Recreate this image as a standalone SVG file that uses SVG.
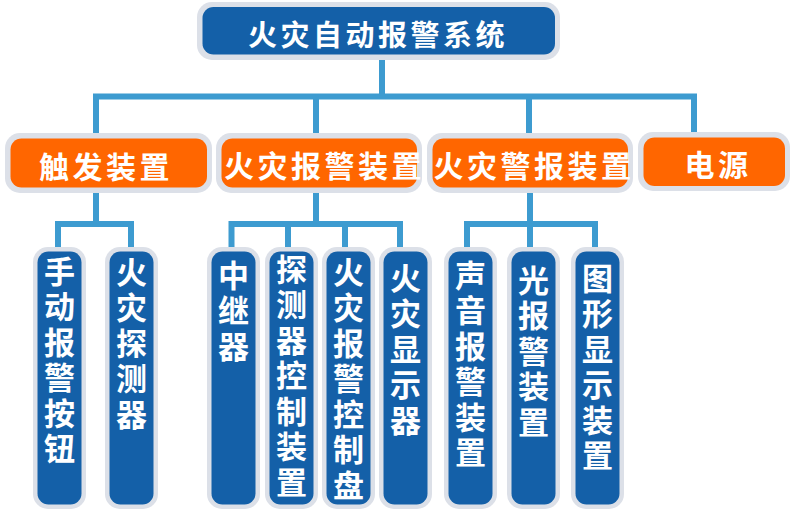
<svg xmlns="http://www.w3.org/2000/svg" width="794" height="510" viewBox="0 0 794 510">
<style>
.frame{fill:#DCE0E8}
.blue{fill:#1460A8}
.orange{fill:#FF6600}
.conn{stroke:#3D9BD0;stroke-width:6;fill:none;stroke-linecap:square}
text{font-family:"Noto Sans CJK SC","Noto Sans",sans-serif;font-weight:bold;fill:#FFFFFF;dominant-baseline:central}
.t1{font-size:29px;letter-spacing:3.5px;text-anchor:middle}
.t2{font-size:30px;letter-spacing:3.5px;text-anchor:middle}
.t3{font-size:31px;letter-spacing:4.5px;writing-mode:vertical-rl;text-orientation:upright;text-anchor:start}
</style>
<rect width="794" height="510" fill="#FFFFFF"/>
<g id="connectors">
<path class="conn" d="M382 60 V96.5 M96 96.5 H694 M96 96.5 V133 M316 96.5 V133 M529 96.5 V133 M694 96.5 V132"/>
<path class="conn" d="M96 193 V224 M58 224 H131 M58 224 V247 M131 224 V247"/>
<path class="conn" d="M316 193 V224 M231.5 224 H400 M231.5 224 V247 M288 224 V247 M345 224 V247 M400 224 V247"/>
<path class="conn" d="M530 193 V224 M467 224 H595 M467 224 V247 M530 224 V247 M595 224 V247"/>
</g>
<g id="root">
<rect class="frame" x="197" y="2" width="363" height="58" rx="15"/>
<rect class="blue" x="202.5" y="7" width="352.5" height="47.5" rx="11"/>
<text class="t1" x="378" y="33">火灾自动报警系统</text>
</g>
<g id="trigger">
<rect class="frame" x="5" y="133" width="207" height="60" rx="15"/>
<rect class="orange" x="10.5" y="138.5" width="196.5" height="49" rx="11"/>
<text class="t2" x="106" y="165">触发装置</text>
</g>
<g id="alarm-device">
<rect class="frame" x="216" y="133" width="206" height="60" rx="15"/>
<rect class="orange" x="221.5" y="138.5" width="195.5" height="49" rx="11"/>
<text class="t2" x="324.5" y="164">火灾报警装置</text>
</g>
<g id="warning-device">
<rect class="frame" x="427" y="133" width="206" height="60" rx="15"/>
<rect class="orange" x="432.5" y="138.5" width="195.5" height="49" rx="11"/>
<text class="t2" x="534" y="164">火灾警报装置</text>
</g>
<g id="power">
<rect class="frame" x="638" y="132" width="152" height="59" rx="15"/>
<rect class="orange" x="643.5" y="137.5" width="141.5" height="48.5" rx="11"/>
<text class="t2" x="718" y="163">电源</text>
</g>
<g id="manual-button">
<rect class="frame" x="33" y="247" width="53" height="262" rx="15"/>
<rect class="blue" x="37.5" y="251.5" width="44" height="253" rx="11"/>
<text class="t3" x="59.5" y="255.5">手动报警按钮</text>
</g>
<g id="fire-detector">
<rect class="frame" x="105" y="247" width="53" height="262" rx="15"/>
<rect class="blue" x="109.5" y="251.5" width="44" height="253" rx="11"/>
<text class="t3" x="131.5" y="256.5">火灾探测器</text>
</g>
<g id="relay">
<rect class="frame" x="207" y="247" width="53" height="262" rx="15"/>
<rect class="blue" x="211.5" y="251.5" width="44" height="253" rx="11"/>
<text class="t3" x="233.5" y="259.5">中继器</text>
</g>
<g id="detector-control">
<rect class="frame" x="265" y="247" width="53" height="262" rx="15"/>
<rect class="blue" x="269.5" y="251.5" width="44" height="253" rx="11"/>
<text class="t3" x="291.5" y="253.5">探测器控制装置</text>
</g>
<g id="alarm-panel">
<rect class="frame" x="322" y="247" width="53" height="262" rx="15"/>
<rect class="blue" x="326.5" y="251.5" width="44" height="253" rx="11"/>
<text class="t3" x="348.5" y="256.5">火灾报警控制盘</text>
</g>
<g id="fire-display">
<rect class="frame" x="379" y="247" width="53" height="262" rx="15"/>
<rect class="blue" x="383.5" y="251.5" width="44" height="253" rx="11"/>
<text class="t3" x="405.5" y="262.5">火灾显示器</text>
</g>
<g id="sound-alarm">
<rect class="frame" x="444" y="247" width="53" height="262" rx="15"/>
<rect class="blue" x="448.5" y="251.5" width="44" height="253" rx="11"/>
<text class="t3" x="470.5" y="259.5">声音报警装置</text>
</g>
<g id="light-alarm">
<rect class="frame" x="507" y="247" width="53" height="262" rx="15"/>
<rect class="blue" x="511.5" y="251.5" width="44" height="253" rx="11"/>
<text class="t3" x="533.5" y="264.5">光报警装置</text>
</g>
<g id="graphic-display">
<rect class="frame" x="571" y="247" width="53" height="262" rx="15"/>
<rect class="blue" x="575.5" y="251.5" width="44" height="253" rx="11"/>
<text class="t3" x="597.5" y="262.5">图形显示装置</text>
</g>
</svg>
